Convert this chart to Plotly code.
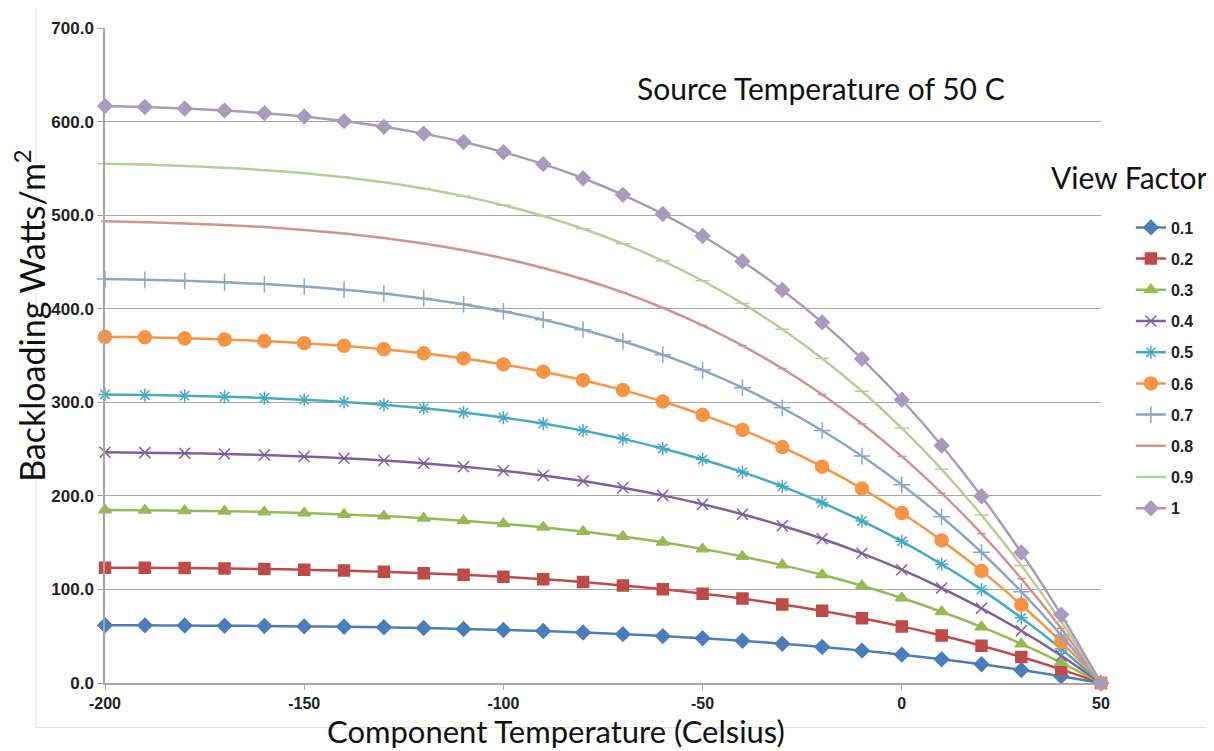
import plotly.graph_objects as go

# component temperature (C)
temps = list(range(-200, 51, 10))
x_ticks = [-200, -150, -100, -50, 0, 50]
x_tick_labels = ['-200', '-150', '-100', '-50', '0', '50']

vf_01 = [61.7, 61.6, 61.4, 61.2, 60.9, 60.5, 60.1, 59.5, 58.7, 57.8, 56.7, 55.5, 53.9,
         52.2, 50.1, 47.8, 45.1, 42.0, 38.5, 34.6, 30.3, 25.4, 20.0, 13.9, 7.3, 0.0]
vf_02 = [123.3, 123.1, 122.8, 122.4, 121.8, 121.1, 120.1, 118.9, 117.4, 115.6, 113.5, 110.9, 107.9,
         104.3, 100.3, 95.5, 90.2, 84.0, 77.1, 69.3, 60.5, 50.8, 39.9, 27.9, 14.6, 0.0]
vf_03 = [185.0, 184.7, 184.2, 183.6, 182.7, 181.6, 180.2, 178.4, 176.1, 173.4, 170.2, 166.4, 161.8,
         156.5, 150.4, 143.3, 135.2, 126.0, 115.6, 103.9, 90.8, 76.1, 59.9, 41.8, 21.9, 0.0]
vf_04 = [246.7, 246.2, 245.6, 244.8, 243.6, 242.1, 240.2, 237.8, 234.8, 231.2, 226.9, 221.8, 215.8,
         208.7, 200.5, 191.1, 180.3, 168.0, 154.2, 138.6, 121.1, 101.5, 79.8, 55.8, 29.2, 0.0]
vf_05 = [308.4, 307.8, 307.0, 306.0, 304.5, 302.7, 300.3, 297.3, 293.6, 289.1, 283.7, 277.3, 269.7,
         260.9, 250.7, 238.9, 225.4, 210.1, 192.7, 173.2, 151.4, 126.9, 99.8, 69.7, 36.6, 0.0]
vf_06 = [370.0, 369.4, 368.4, 367.1, 365.4, 363.2, 360.3, 356.7, 352.3, 346.9, 340.4, 332.7, 323.6,
         313.0, 300.8, 286.6, 270.5, 252.1, 231.2, 207.8, 181.6, 152.3, 119.8, 83.6, 43.9, 0.0]
vf_07 = [431.7, 430.9, 429.8, 428.3, 426.3, 423.7, 420.4, 416.2, 411.0, 404.7, 397.1, 388.2, 377.6,
         365.2, 350.9, 334.4, 315.6, 294.1, 269.8, 242.5, 211.9, 177.7, 139.7, 97.6, 51.2, 0.0]
vf_08 = [493.4, 492.5, 491.2, 489.5, 487.2, 484.2, 480.4, 475.6, 469.7, 462.5, 453.8, 443.6, 431.5,
         417.4, 401.0, 382.2, 360.6, 336.1, 308.3, 277.1, 242.2, 203.0, 159.7, 111.5, 58.5, 0.0]
vf_09 = [555.0, 554.0, 552.6, 550.7, 548.1, 544.8, 540.5, 535.1, 528.4, 520.3, 510.6, 499.1, 485.5,
         469.5, 451.2, 429.9, 405.7, 378.1, 346.9, 311.8, 272.4, 228.4, 179.6, 125.5, 65.8, 0.0]
vf_10 = [616.7, 615.6, 614.0, 611.9, 609.0, 605.3, 600.5, 594.5, 587.1, 578.1, 567.3, 554.5, 539.4,
         521.7, 501.3, 477.7, 450.8, 420.1, 385.4, 346.4, 302.7, 253.8, 199.6, 139.4, 73.1, 0.0]

names = ['0.1', '0.2', '0.3', '0.4', '0.5', '0.6', '0.7', '0.8', '0.9', '1']
series = [vf_01, vf_02, vf_03, vf_04, vf_05, vf_06, vf_07, vf_08, vf_09, vf_10]

# excel 2007 palette + marker styles
colors = ['#4A7EBB', '#BE4B48', '#98B954', '#7D60A0', '#46AAC5',
          '#F69545', '#8EA5CB', '#D19392', '#B9CD96', '#A99BBD']
symbols = ['diamond', 'square', 'triangle-up', 'x-thin-open', 'asterisk-open',
           'circle', 'cross-thin-open', 'line-ew-open', 'line-ew-open', 'diamond']
sizes = [11, 11, 11, 11, 11, 13, 12, 6, 10, 11]

fig = go.Figure()
for i, (name, vals) in enumerate(zip(names, series)):
    fig.add_trace(go.Scatter(
        x=temps, y=vals, mode='lines+markers', name=name,
        legendgroup=name,
        line=dict(color=colors[i], width=2.5, shape='spline', smoothing=0.6),
        marker=dict(symbol=symbols[i], size=sizes[i], color=colors[i],
                    line=dict(color=colors[i], width=1.5)),
        cliponaxis=False,
    ))

# page body has an 8px margin, so the figure is 8px smaller than the window
fig.update_layout(
    width=1206, height=743,
    margin=dict(l=97, r=113, t=20, b=68),
    plot_bgcolor='white', paper_bgcolor='white',
    font=dict(family='Liberation Sans', color='#222222'),
    legend=dict(x=1.03, y=(682.5 - 210) / 655, xanchor='left', yanchor='top',
                font=dict(size=16, family='Liberation Sans', color='#222222', weight='bold'),
                tracegroupgap=7.4, traceorder='grouped', bgcolor='rgba(0,0,0,0)'),
    xaxis=dict(range=[-200, 50], tickvals=x_ticks, ticktext=x_tick_labels,
               showgrid=False, zeroline=False, showline=True, linecolor='#A6A6A6', linewidth=1.5,
               ticks='outside', ticklen=5, tickcolor='#A6A6A6',
               tickfont=dict(size=16, weight='bold')),
    yaxis=dict(range=[0, 700], tickvals=list(range(0, 701, 100)), tickformat='.1f',
               showgrid=True, gridcolor='#A6A6A6', gridwidth=1, zeroline=False,
               showline=True, linecolor='#A6A6A6', linewidth=1.5,
               ticks='outside', ticklen=6, tickcolor='#A6A6A6',
               tickfont=dict(size=17, weight='bold')),
)

ann = dict(xref='paper', yref='paper', showarrow=False, xanchor='center', yanchor='middle')
fig.add_annotation(text='Source Temperature of 50 C', x=0.719, y=0.908,
                   font=dict(family='Lato', size=30, color='#111111'), **ann)
fig.add_annotation(text='View Factor', x=1.029, y=0.773,
                   font=dict(family='Lato', size=30, color='#111111'), **ann)
fig.add_annotation(text='Backloading Watts/m<sup>2</sup>', x=-0.076, y=0.561, textangle=-90,
                   font=dict(family='Lato', size=34, color='#111111'), **ann)
fig.add_annotation(text='Component Temperature (Celsius)', x=0.453, y=-0.074,
                   font=dict(family='Lato', size=31, color='#111111'), **ann)

# light chart-area frame (left and bottom edges)
fig.add_shape(type='line', xref='paper', yref='paper', x0=-0.0693, x1=-0.0693, y0=-0.068, y1=1.03,
              line=dict(color='#E2E2E2', width=1))
fig.add_shape(type='line', xref='paper', yref='paper', x0=-0.0693, x1=1.12, y0=-0.068, y1=-0.068,
              line=dict(color='#E2E2E2', width=1))

fig.write_html("out.html")
